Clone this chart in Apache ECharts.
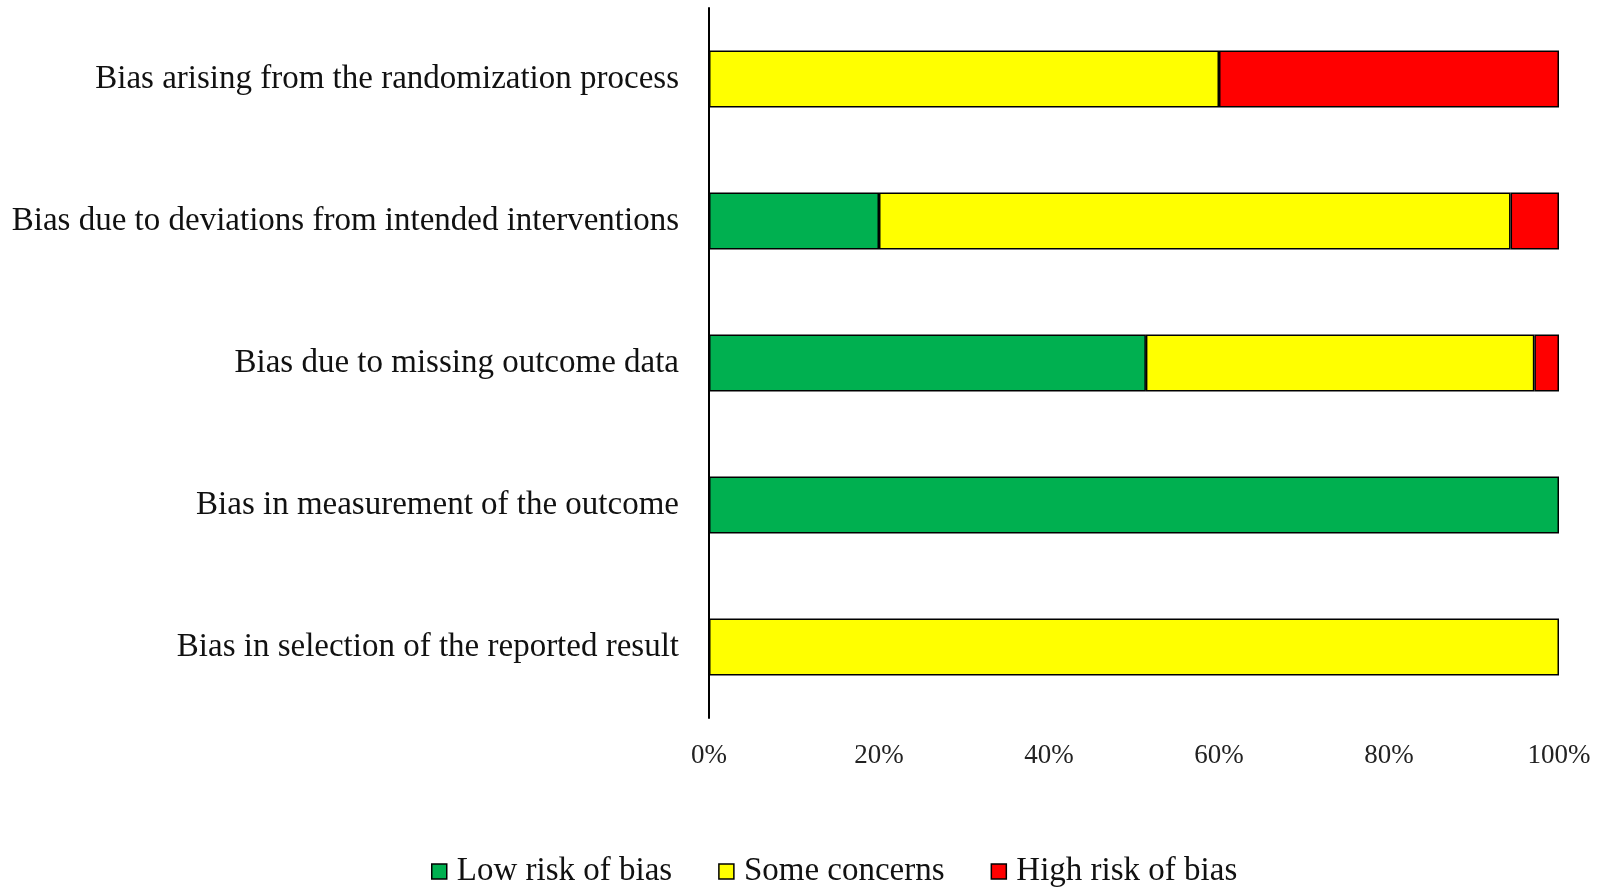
<!DOCTYPE html>
<html>
<head>
<meta charset="utf-8">
<script src="https://cdn.jsdelivr.net/npm/echarts@6/dist/echarts.min.js"></script>
<style>
html,body{margin:0;padding:0;background:#fff;}
#chart{width:1600px;height:891px;}
</style>
</head>
<body>
<div id="chart"></div>
<script>
var categories = [
  'Bias arising from the randomization process',
  'Bias due to deviations from intended interventions',
  'Bias due to missing outcome data',
  'Bias in measurement of the outcome',
  'Bias in selection of the reported result'
];
var lowRisk = [0, 20, 51.4, 100, 0];
var someConcerns = [60, 74.3, 45.7, 0, 100];
var highRisk = [40, 5.7, 2.9, 0, 0];
var tickValues = [0, 20, 40, 60, 80, 100];

var FONT = '"Liberation Serif", "Times New Roman", serif';
function clean(arr){ return arr.map(function(v){ return v === 0 ? null : v; }); }
function mk(name, data, color){
  return {
    name: name, type: 'bar', stack: 'total', barWidth: 57,
    data: clean(data),
    itemStyle: { color: color, borderColor: '#000', borderWidth: 1.5 },
    emphasis: { disabled: true }
  };
}
var chart = echarts.init(document.getElementById('chart'));
chart.setOption({
  animation: false,
  backgroundColor: '#fff',
  grid: { left: 709, right: 41, top: 8, bottom: 173, containLabel: false },
  xAxis: {
    type: 'value', min: 0, max: 100, interval: 20,
    axisLine: { show: false }, axisTick: { show: false }, splitLine: { show: false },
    axisLabel: { margin: 24, fontFamily: FONT, fontSize: 27, color: '#222',
      formatter: function(v){ return tickValues.indexOf(v) >= 0 ? v + '%' : ''; } }
  },
  yAxis: {
    type: 'category', data: categories, inverse: true,
    axisLine: { show: true, lineStyle: { color: '#000', width: 2 } },
    axisTick: { show: false },
    axisLabel: { margin: 30, fontFamily: FONT, fontSize: 33, color: '#111' }
  },
  legend: {
    top: 850, left: 426,
    icon: 'rect', itemWidth: 15, itemHeight: 15, itemGap: 46,
    textStyle: { fontFamily: FONT, fontSize: 33, color: '#111', padding: [0, 0, 0, 5] },
    itemStyle: { borderColor: '#000', borderWidth: 1.5 },
    data: ['Low risk of bias', 'Some concerns', 'High risk of bias']
  },
  series: [
    mk('Low risk of bias', lowRisk, '#00b050'),
    mk('Some concerns', someConcerns, '#ffff00'),
    mk('High risk of bias', highRisk, '#ff0000')
  ]
});
</script>
</body>
</html>
